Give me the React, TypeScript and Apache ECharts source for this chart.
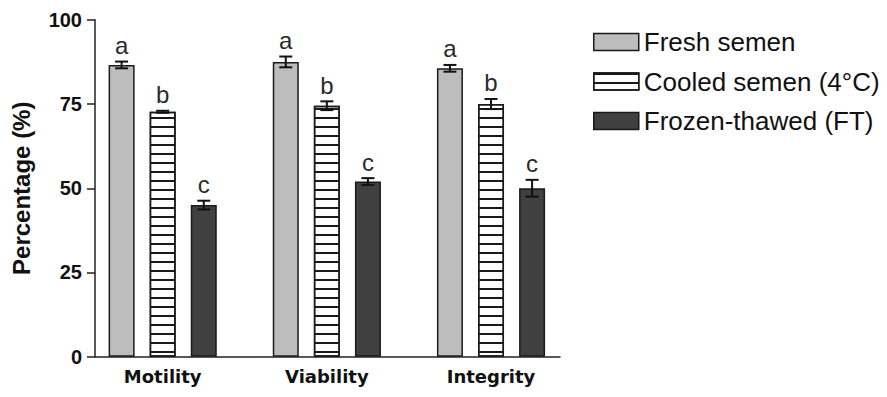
import React, { useEffect, useRef } from "react";
import * as echarts from "echarts";

const categories = ["Motility", "Viability", "Integrity"];
const seriesNames = ["Fresh semen", "Cooled semen (4°C)", "Frozen-thawed (FT)"];
const freshValues = [86.6, 87.5, 85.6];
const cooledValues = [72.7, 74.5, 75.0];
const frozenValues = [45.0, 52.0, 50.0];
const freshErrors = [1.0, 1.6, 1.0];
const cooledErrors = [0.3, 1.3, 1.5];
const frozenErrors = [1.3, 1.0, 2.5];
const freshLetters = ["a", "a", "a"];
const cooledLetters = ["b", "b", "b"];
const frozenLetters = ["c", "c", "c"];
const yMin = 0;
const yMax = 100;
const yInterval = 25;

const BAR_W = 26;
const BAR_GAP = 0.58;

export default function App() {
  const ref = useRef<HTMLDivElement>(null);
  useEffect(() => {
    if (!ref.current) return;
    const chart = echarts.init(ref.current, null, { renderer: "svg" });
    const values = [freshValues, cooledValues, frozenValues];
    const errors = [freshErrors, cooledErrors, frozenErrors];
    const letters = [freshLetters, cooledLetters, frozenLetters];
    const errData: number[][] = [];
    const errLetters: string[] = [];
    for (let s = 0; s < 3; s++) {
      for (let i = 0; i < categories.length; i++) {
        errData.push([i, values[s][i], errors[s][i], s]);
        errLetters.push(letters[s][i]);
      }
    }
    const fills = ["#bdbdbd", "#ffffff", "#404040"];
    const border = "#1a1a1a";
    const offset = BAR_W * (1 + BAR_GAP);

    const barSeries = seriesNames.map((name, s) => ({
      type: "bar",
      name,
      xAxisIndex: 0,
      yAxisIndex: 0,
      data: values[s],
      barWidth: BAR_W,
      barGap: BAR_GAP * 100 + "%",
      itemStyle: {
        color: fills[s],
        borderColor: border,
        borderWidth: 1.5,
        ...(s === 1
          ? {
              decal: {
                symbol: "rect",
                symbolSize: 1,
                color: "#1a1a1a",
                dashArrayX: [1, 0],
                dashArrayY: [2, 6.5],
                rotation: 0,
              },
            }
          : {}),
      },
    }));

    chart.setOption({
      animation: false,
      backgroundColor: "#ffffff",
      grid: [
        { left: 80.6, right: 313.9, top: 19.8, bottom: 40.3 },
        { left: 95, right: 327, top: 19.8, bottom: 40.3 },
      ],
      legend: {
        data: seriesNames,
        orient: "vertical",
        left: 593,
        top: 29,
        padding: 0,
        itemWidth: 45,
        itemHeight: 17,
        itemGap: 13.5,
        icon: "rect",
        itemStyle: { borderColor: border, borderWidth: 1.5 },
        textStyle: {
          fontFamily: "Liberation Sans",
          fontSize: 26,
          color: "#111",
        },
      },
      xAxis: [
        {
          type: "category",
          gridIndex: 0,
          data: categories,
          axisLine: { show: false },
          axisTick: { show: false },
          axisLabel: {
            margin: 11,
            fontFamily: "DejaVu Sans",
            fontWeight: "bold",
            fontSize: 18,
            color: "#111",
          },
        },
        {
          type: "category",
          gridIndex: 1,
          data: categories,
          axisLine: { show: true, lineStyle: { color: "#222", width: 1.5 } },
          axisTick: { show: false },
          axisLabel: { show: false },
        },
      ],
      yAxis: [
        { type: "value", gridIndex: 0, min: yMin, max: yMax, show: false, splitLine: { show: false } },
        {
          type: "value",
          gridIndex: 1,
          min: yMin,
          max: yMax,
          interval: yInterval,
          name: "Percentage (%)",
          nameLocation: "middle",
          nameGap: 62,
          nameRotate: 90,
          nameTextStyle: {
            fontFamily: "Liberation Sans",
            fontWeight: "bold",
            fontSize: 24,
            color: "#111",
          },
          axisLine: { show: true, lineStyle: { color: "#222", width: 1.5 } },
          axisTick: { show: true, length: 8, lineStyle: { color: "#222", width: 1.5 } },
          splitLine: { show: false },
          axisLabel: {
            margin: 13,
            fontFamily: "Liberation Sans",
            fontWeight: "bold",
            fontSize: 20,
            color: "#111",
          },
        },
      ],
      series: [
        ...barSeries,
        {
          type: "custom",
          name: "errors",
          xAxisIndex: 0,
          yAxisIndex: 0,
          data: errData,
          clip: false,
          z: 5,
          renderItem: (params: any, api: any) => {
            const i = api.value(0);
            const v = api.value(1);
            const e = api.value(2);
            const s = api.value(3);
            const c = api.coord([i, v]);
            const top = api.coord([i, v + e]);
            const bot = api.coord([i, v - e]);
            const x = c[0] + (s - 1) * offset;
            const capHalf = 6.5;
            const ls = { stroke: "#111", lineWidth: 2 };
            return {
              type: "group",
              children: [
                { type: "line", shape: { x1: x, y1: top[1], x2: x, y2: bot[1] }, style: ls },
                { type: "line", shape: { x1: x - capHalf, y1: top[1], x2: x + capHalf, y2: top[1] }, style: ls },
                { type: "line", shape: { x1: x - capHalf, y1: bot[1], x2: x + capHalf, y2: bot[1] }, style: ls },
                {
                  type: "text",
                  x,
                  y: top[1] - 4,
                  style: {
                    text: errLetters[params.dataIndex],
                    fill: "#2a2a2a",
                    fontFamily: "Liberation Sans",
                    fontSize: 24,
                    align: "center",
                    verticalAlign: "bottom",
                  },
                },
              ],
            };
          },
        },
      ],
    });
    return () => chart.dispose();
  }, []);
  return (
    <div
      ref={ref}
      style={{ position: "fixed", left: 0, top: 0, width: 887, height: 397 }}
    />
  );
}
